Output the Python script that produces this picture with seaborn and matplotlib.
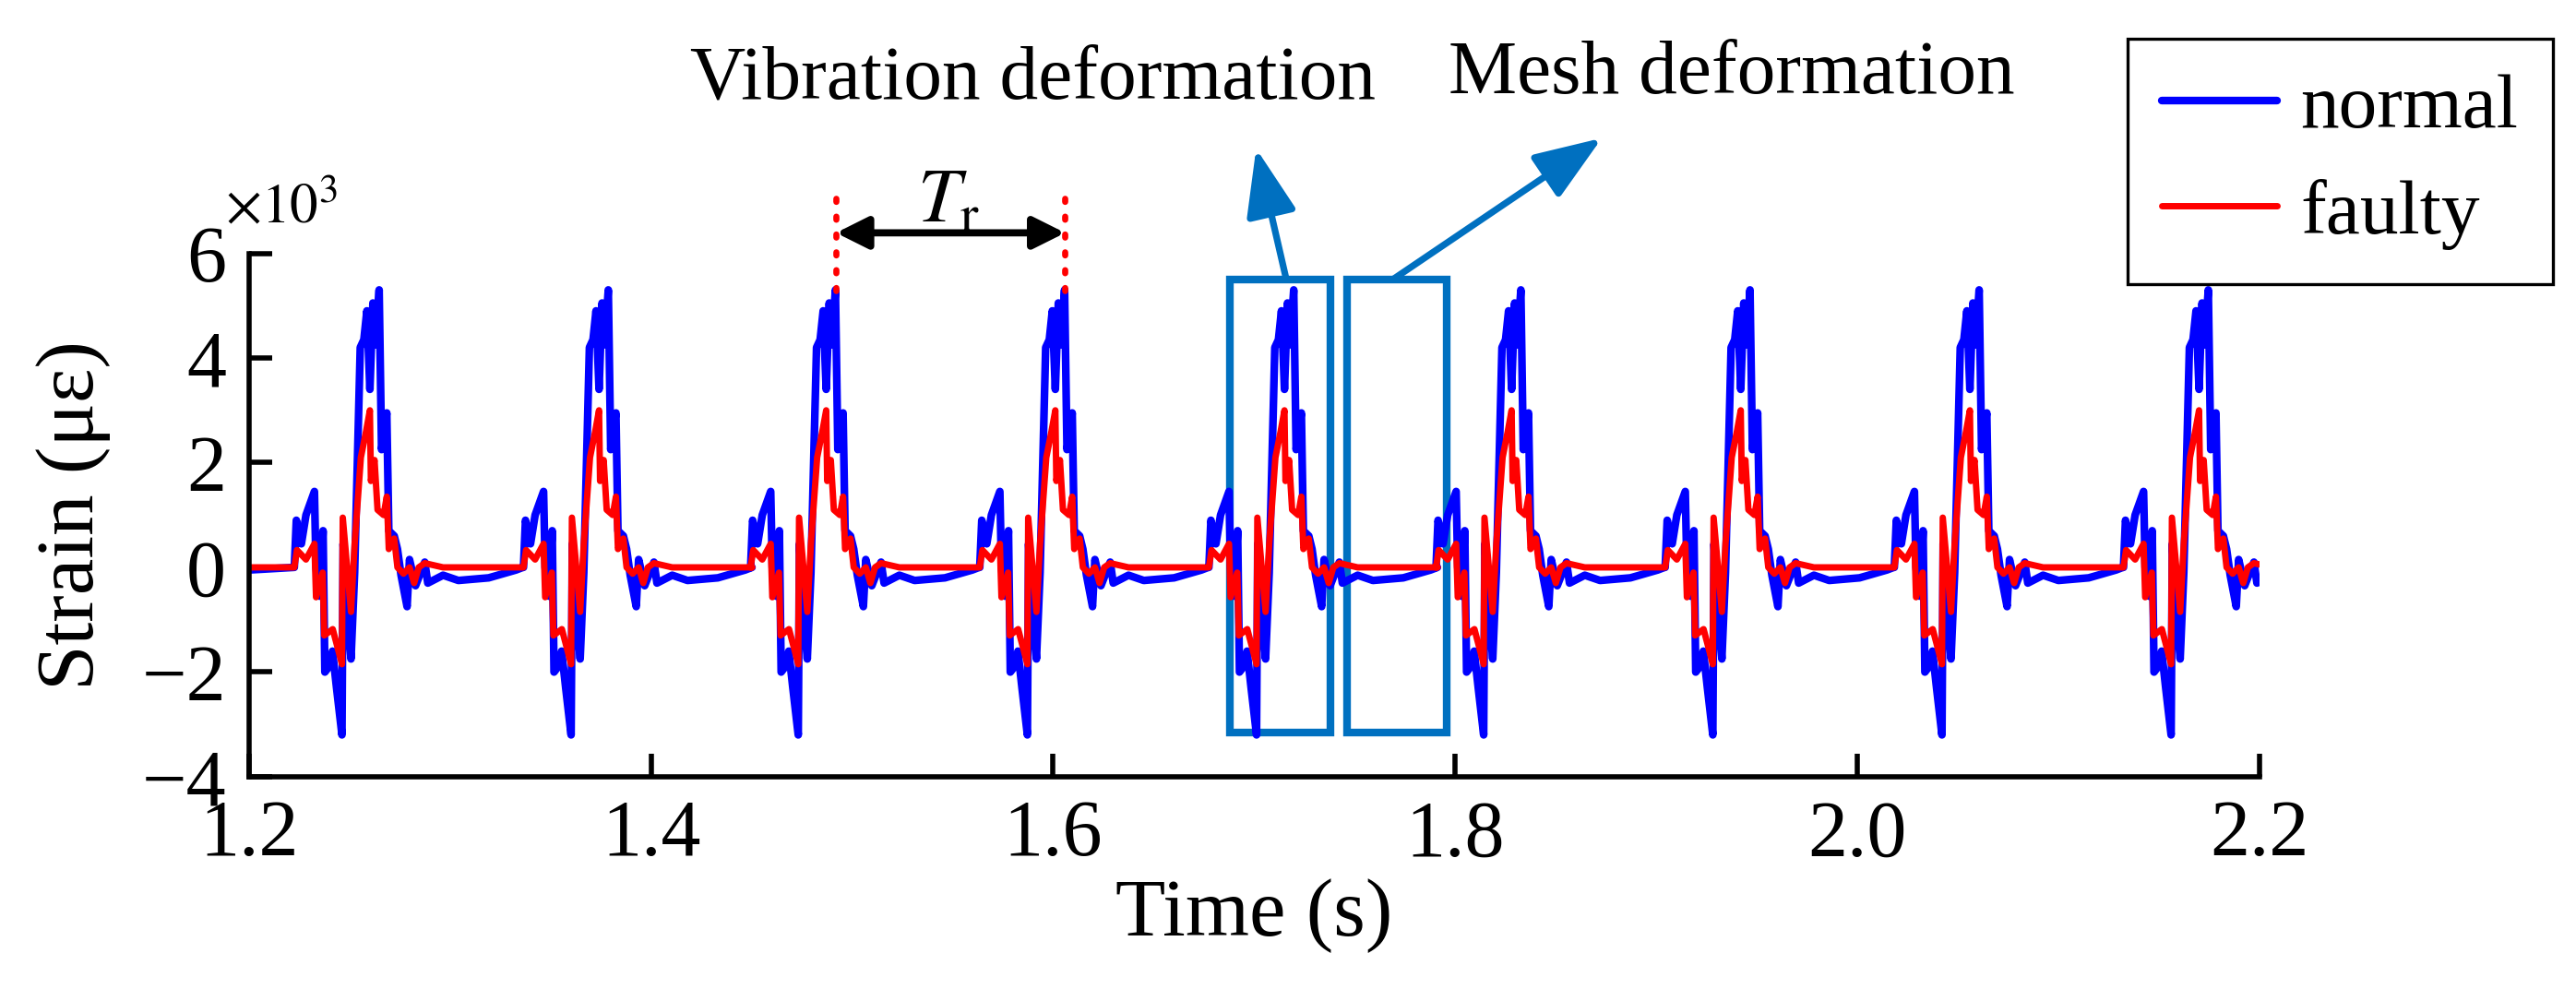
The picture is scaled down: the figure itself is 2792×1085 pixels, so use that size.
import numpy as np
import pandas as pd
import matplotlib
matplotlib.use('Agg')
import matplotlib.pyplot as plt
from matplotlib.patches import Rectangle
import seaborn as sns

# burst onsets (s)
onsets = [1.223, 1.337, 1.450, 1.564, 1.678, 1.791, 1.905, 2.019, 2.133]

# one period of the normal signal: time after onset (s), strain (x10^3 με)
normal_dt = [-0.0005, 0.0005, 0.0030, 0.0053, 0.0095, 0.0103, 0.0121, 0.0138, 0.0147,
             0.0167, 0.0185, 0.0205, 0.0232, 0.0238, 0.0258, 0.0277, 0.0295, 0.0323,
             0.0341, 0.0356, 0.0371, 0.0386, 0.0398, 0.0417, 0.0429, 0.0455, 0.0465,
             0.0492, 0.0508, 0.0526, 0.0556, 0.0568, 0.0598, 0.0644, 0.0659, 0.0735,
             0.0811, 0.0962, 0.1098, 0.1132]
normal_val = [0.0, 0.9, 0.45, 1.0, 1.45, 0.0, -0.55, 0.7, -2.0,
              -1.9, -1.6, -2.3, -3.2, 0.45, -0.85, -1.75, -0.1, 4.2,
              4.35, 4.9, 3.4, 5.05, 4.25, 5.3, 2.25, 2.95, 0.7,
              0.6, 0.35, -0.15, -0.75, 0.15, -0.35, 0.1, -0.3, -0.15,
              -0.25, -0.2, -0.05, 0.0]

# one period of the faulty signal
faulty_dt = [-0.0005, 0.0008, 0.0053, 0.0095, 0.0103, 0.0136, 0.0144, 0.0186, 0.0232,
             0.0236, 0.0277, 0.0295, 0.0326, 0.0352, 0.0371, 0.0376, 0.0394, 0.0409,
             0.0439, 0.0455, 0.0465, 0.0492, 0.0508, 0.0538, 0.0568, 0.0591, 0.0614,
             0.0644, 0.0735, 0.1132]
faulty_val = [0.0, 0.33, 0.15, 0.45, -0.57, -0.1, -1.3, -1.18, -1.85,
              0.95, -0.85, 0.45, 2.1, 2.6, 3.0, 1.65, 2.05, 1.1,
              1.0, 1.35, 0.35, 0.55, 0.0, -0.12, 0.0, -0.3, 0.0,
              0.08, 0.0, 0.0]

def build(dt, val, start_val):
    t = [1.2]
    v = [start_val]
    for t0 in onsets:
        t += [t0 + d for d in dt]
        v += list(val)
    return pd.DataFrame({'t': t, 'strain': v})

df_normal = build(normal_dt, normal_val, -0.05)
df_faulty = build(faulty_dt, faulty_val, 0.0)

sns.set_style('ticks')
plt.rcParams['font.family'] = ['Liberation Serif', 'DejaVu Serif']
plt.rcParams['mathtext.fontset'] = 'stix'
for k in ['text.color', 'axes.labelcolor', 'xtick.color', 'ytick.color', 'axes.edgecolor']:
    plt.rcParams[k] = 'black'

fig, ax = plt.subplots(figsize=(13.96, 5.425), dpi=200)
fig.subplots_adjust(left=0.0967, right=0.877, bottom=0.224, top=0.747)

sns.lineplot(data=df_normal, x='t', y='strain', color='#0000FF', lw=3.0,
             estimator=None, sort=False, label='normal', ax=ax)
sns.lineplot(data=df_faulty, x='t', y='strain', color='#FF0000', lw=2.5,
             estimator=None, sort=False, label='faulty', ax=ax)

ax.set_xlim(1.2, 2.2)
ax.set_ylim(-4, 6)
ax.set_xticks([1.2, 1.4, 1.6, 1.8, 2.0, 2.2])
ax.set_xticklabels(['1.2', '1.4', '1.6', '1.8', '2.0', '2.2'])
ax.set_yticks([-4, -2, 0, 2, 4, 6])
sns.despine(ax=ax)
for s in ['left', 'bottom']:
    ax.spines[s].set_linewidth(2.0)
ax.tick_params(direction='in', length=9, width=2.0, labelsize=31, pad=9)
ax.set_xlabel('Time (s)', fontsize=32, labelpad=2)
ax.set_ylabel('Strain (με)', fontsize=32, labelpad=12)
ax.text(-0.012, 1.085, r'$\times10^3$', transform=ax.transAxes, fontsize=22,
        ha='left', va='center')

# annotation boxes and arrows
box_c = '#0070C0'
ax.add_patch(Rectangle((1.688, -3.15), 0.050, 8.65, fill=False, ec=box_c, lw=3.0, clip_on=False))
ax.add_patch(Rectangle((1.746, -3.15), 0.050, 8.65, fill=False, ec=box_c, lw=3.0, clip_on=False))
ax.annotate('', xy=(1.701, 8.0), xytext=(1.716, 5.5), annotation_clip=False,
            arrowprops=dict(arrowstyle='-|>,head_length=0.8,head_width=0.3', color=box_c,
                            lw=2.6, mutation_scale=28, shrinkA=0, shrinkB=0))
ax.annotate('', xy=(1.873, 8.2), xytext=(1.769, 5.5), annotation_clip=False,
            arrowprops=dict(arrowstyle='-|>,head_length=0.8,head_width=0.3', color=box_c,
                            lw=2.6, mutation_scale=28, shrinkA=0, shrinkB=0))
ax.text(1.590, 9.3, 'Vibration deformation', fontsize=30, ha='center', va='center')
ax.text(1.9375, 9.4, 'Mesh deformation', fontsize=30, ha='center', va='center')

# period marker
for xv in [1.492, 1.606]:
    ax.plot([xv, xv], [5.28, 7.13], color='#FF0000', ls=(0, (0.5, 2.4)), lw=2.4,
            dash_capstyle='round', clip_on=False)
ax.annotate('', xy=(1.492, 6.39), xytext=(1.606, 6.39), annotation_clip=False,
            arrowprops=dict(arrowstyle='<|-|>', color='black', lw=2.8, mutation_scale=26,
                            shrinkA=0, shrinkB=0))
ax.text(1.548, 6.95, r'$T_{\mathrm{r}}$', fontsize=30, ha='center', va='center')

leg = ax.legend(loc='upper right', bbox_to_anchor=(0.991, 0.961),
                bbox_transform=fig.transFigure, borderaxespad=0, fontsize=30,
                frameon=True, fancybox=False, framealpha=1, edgecolor='black',
                handlelength=1.5, handletextpad=0.3, labelspacing=0.45,
                borderpad=0.45)
leg.get_frame().set_linewidth(1.2)

fig.savefig('out.png', dpi=200)
